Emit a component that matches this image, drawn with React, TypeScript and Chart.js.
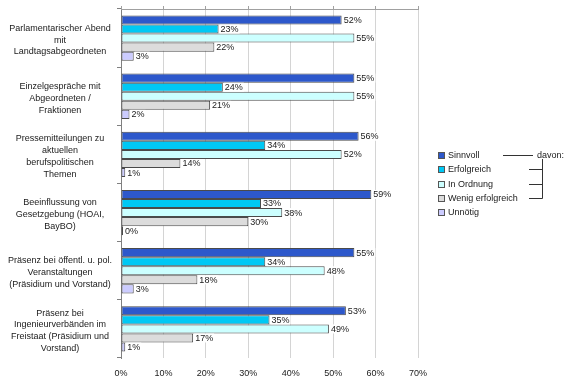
import React, { useEffect, useRef } from "react";
import { Chart, registerables } from "chart.js";

Chart.register(...registerables);

const categories: string[][] = [
  ["Parlamentarischer Abend", "mit", "Landtagsabgeordneten"],
  ["Einzelgespräche mit", "Abgeordneten /", "Fraktionen"],
  ["Pressemitteilungen zu", "aktuellen", "berufspolitischen", "Themen"],
  ["Beeinflussung von", "Gesetzgebung (HOAI,", "BayBO)"],
  ["Präsenz bei öffentl. u. pol.", "Veranstaltungen", "(Präsidium und Vorstand)"],
  ["Präsenz bei", "Ingenieurverbänden im", "Freistaat (Präsidium und", "Vorstand)"],
];

const seriesNames = ["Sinnvoll", "Erfolgreich", "In Ordnung", "Wenig erfolgreich", "Unnötig"];
const sinnvoll = [52, 55, 56, 59, 55, 53];
const erfolgreich = [23, 24, 34, 33, 34, 35];
const inOrdnung = [55, 55, 52, 38, 48, 49];
const wenigErfolgreich = [22, 21, 14, 30, 18, 17];
const unnoetig = [3, 2, 1, 0, 3, 1];
const xTickValues = [0, 10, 20, 30, 40, 50, 60, 70];
const annotationText = "davon:";

const seriesColors = ["#2D58CB", "#00C8F4", "#CCFFFF", "#DCDCDC", "#CCCCFF"];
const FONT = "'Liberation Sans', Arial, sans-serif";

export default function App() {
  const ref = useRef<HTMLCanvasElement | null>(null);

  useEffect(() => {
    document.body.style.margin = "0";
    const canvas = ref.current;
    if (!canvas) return;

    const values = [sinnvoll, erfolgreich, inOrdnung, wenigErfolgreich, unnoetig];

    const labelPlugin = {
      id: "valueLabels",
      afterDatasetsDraw(chart: any) {
        const ctx = chart.ctx;
        ctx.save();
        ctx.font = `9px ${FONT}`;
        ctx.textBaseline = "middle";
        ctx.textAlign = "left";
        chart.data.datasets.forEach((ds: any, di: number) => {
          const meta = chart.getDatasetMeta(di);
          meta.data.forEach((el: any, i: number) => {
            const txt = `${ds.data[i]}%`;
            const w = ctx.measureText(txt).width;
            const x = el.x + 1;
            const y = el.y;
            ctx.fillStyle = "#ffffff";
            ctx.fillRect(x, y - 4.5, w + 2, 9);
            ctx.fillStyle = "#1a1a1a";
            ctx.fillText(txt, x + 1, y + 0.5);
          });
        });
        ctx.restore();
      },
    };

    const legendPlugin = {
      id: "customLegend",
      afterDraw(chart: any) {
        const ctx = chart.ctx;
        const area = chart.chartArea;
        const x0 = area.right + 20;
        const yMid = (area.top + area.bottom) / 2;
        const step = 14.4;
        const n = chart.data.datasets.length;
        const y0 = yMid - ((n - 1) * step) / 2;
        ctx.save();
        ctx.font = `9px ${FONT}`;
        ctx.textBaseline = "middle";
        ctx.textAlign = "left";
        const ys: number[] = [];
        chart.data.datasets.forEach((ds: any, i: number) => {
          const y = Math.round(y0 + i * step);
          ys.push(y);
          ctx.fillStyle = ds.backgroundColor;
          ctx.fillRect(x0, y - 3, 6, 6);
          ctx.strokeStyle = "#555";
          ctx.lineWidth = 1;
          ctx.strokeRect(x0 + 0.5, y - 3 + 0.5, 6, 6);
          ctx.fillStyle = "#1a1a1a";
          ctx.fillText(ds.label, x0 + 10, y + 0.5);
        });
        // bracket annotation
        ctx.strokeStyle = "#333";
        ctx.lineWidth = 1;
        ctx.beginPath();
        ctx.moveTo(x0 + 65, ys[0] + 0.5);
        ctx.lineTo(x0 + 95, ys[0] + 0.5);
        ctx.moveTo(x0 + 104.5, ys[0] + 4);
        ctx.lineTo(x0 + 104.5, ys[3] + 0.5);
        for (let k = 1; k <= 3; k++) {
          ctx.moveTo(x0 + 91, ys[k] + 0.5);
          ctx.lineTo(x0 + 104.5, ys[k] + 0.5);
        }
        ctx.stroke();
        ctx.fillStyle = "#1a1a1a";
        ctx.fillText(annotationText, x0 + 99, ys[0] + 0.5);
        ctx.restore();
      },
    };

    const chart = new Chart(canvas, {
      type: "bar",
      data: {
        labels: categories,
        datasets: seriesNames.map((name, i) => ({
          label: name,
          data: values[i],
          backgroundColor: seriesColors[i],
          borderColor: "#4a4a4a",
          borderWidth: 1,
          borderSkipped: false,
          categoryPercentage: 0.78,
          barPercentage: 1,
          minBarLength: i === 4 ? 2 : 0,
        })),
      },
      options: {
        indexAxis: "y",
        responsive: false,
        animation: false,
        devicePixelRatio: 1,
        layout: { padding: { left: 0, right: 162, top: 0, bottom: 0 } },
        plugins: {
          legend: { display: false },
          tooltip: { enabled: false },
        },
        scales: {
          y: {
            type: "category",
            position: "left",
            afterFit: (s: any) => {
              s.width = 121;
              s.paddingTop = 0;
              s.paddingBottom = 0;
            },
            border: { display: true, color: "#808080" },
            grid: {
              offset: true,
              drawOnChartArea: false,
              drawTicks: true,
              tickLength: 4,
              color: "#808080",
            },
            ticks: {
              autoSkip: false,
              crossAlign: "center",
              padding: 5,
              labelOffset: 2,
              color: "#1a1a1a",
              font: { family: FONT, size: 9, lineHeight: 1.32 },
            },
          },
          x: {
            type: "linear",
            position: "bottom",
            min: 0,
            max: 70,
            afterFit: (s: any) => {
              s.height = 30;
            },
            afterBuildTicks: (s: any) => {
              s.ticks = xTickValues.map((v) => ({ value: v }));
            },
            border: { display: false },
            grid: { color: "#D4D4D4", drawTicks: false, lineWidth: 1 },
            ticks: {
              padding: 10,
              color: "#1a1a1a",
              font: { family: FONT, size: 9 },
              callback: (v: any) => `${v}%`,
            },
          },
          x2: {
            type: "linear",
            position: "top",
            min: 0,
            max: 70,
            afterFit: (s: any) => {
              s.height = 9;
            },
            afterBuildTicks: (s: any) => {
              s.ticks = xTickValues.map((v) => ({ value: v }));
            },
            border: { display: true, color: "#A0A0A0" },
            grid: { drawOnChartArea: false, drawTicks: true, tickLength: 3, color: "#A0A0A0" },
            ticks: { display: false },
          },
        },
      } as any,
      plugins: [labelPlugin, legendPlugin],
    });

    return () => chart.destroy();
  }, []);

  return (
    <div style={{ width: 580, height: 388, background: "#fff" }}>
      <canvas ref={ref} width={580} height={388} style={{ display: "block" }} />
    </div>
  );
}
